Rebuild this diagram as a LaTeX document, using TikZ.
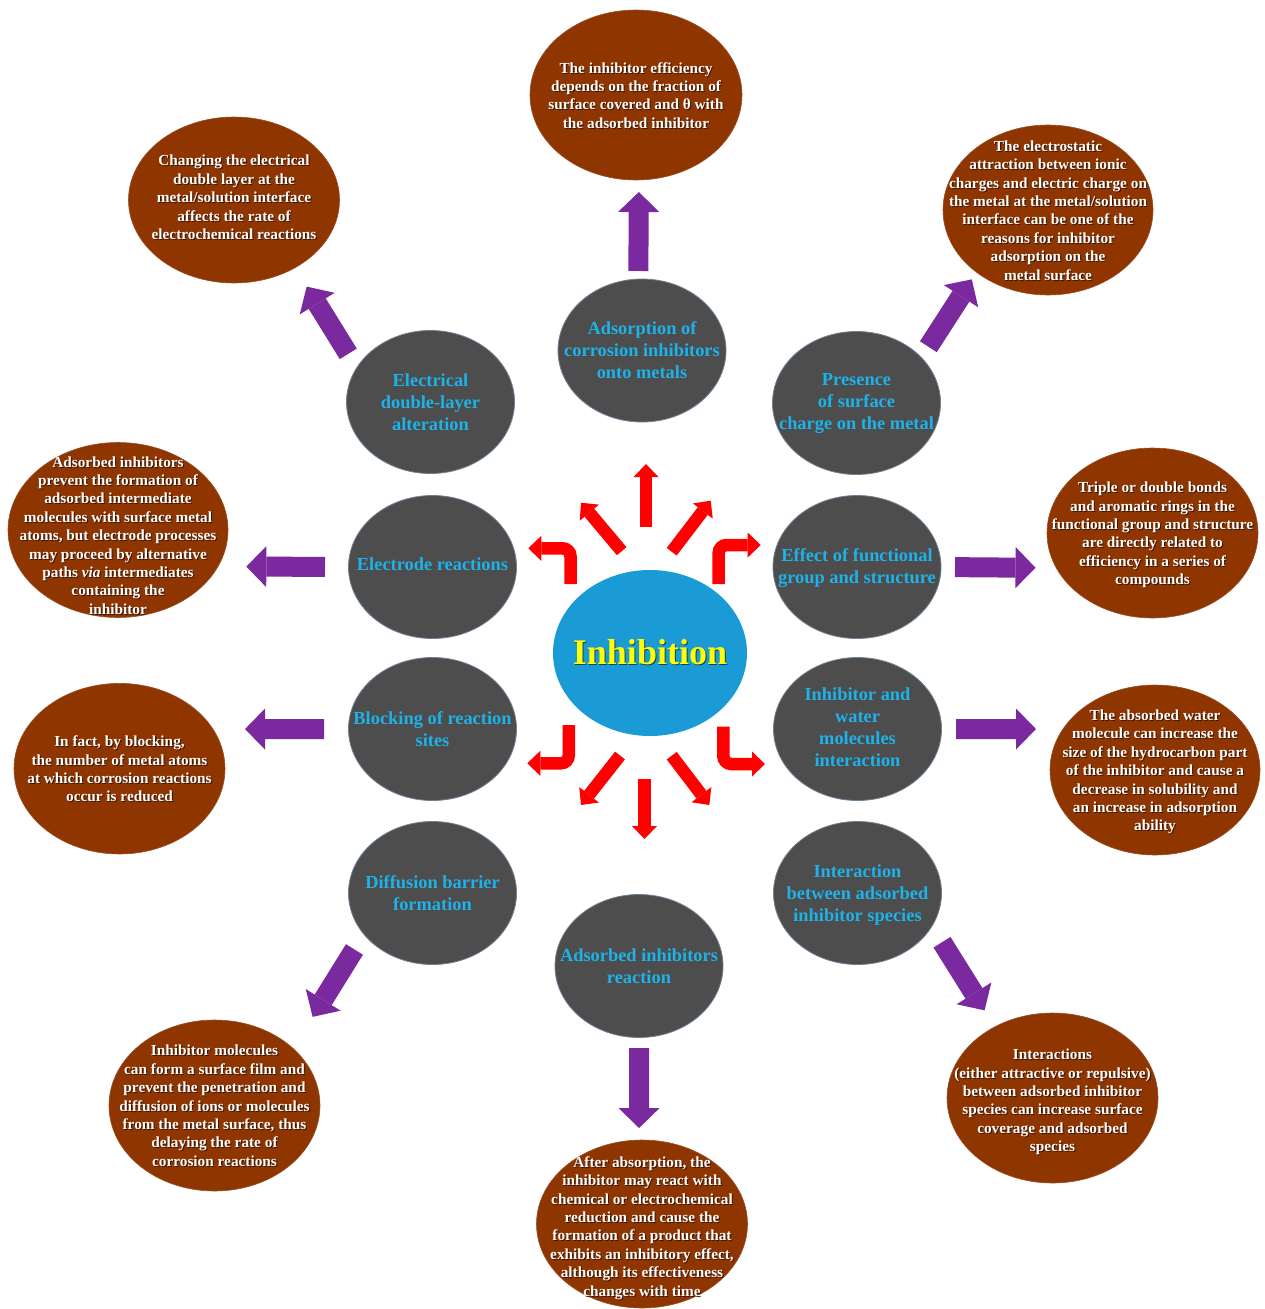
\documentclass[tikz,border=0pt]{standalone}
\usepackage{fontspec}
\setmainfont{Liberation Serif}
\usetikzlibrary{arrows.meta,shapes.geometric}
\definecolor{grayfill}{RGB}{77,77,77}
\definecolor{grayline}{RGB}{110,130,150}
\definecolor{cyantext}{RGB}{30,178,232}
\definecolor{brownfill}{RGB}{143,53,0}
\definecolor{brownline}{RGB}{150,80,40}
\definecolor{bluefill}{RGB}{26,155,214}
\definecolor{purp}{RGB}{122,42,158}
\definecolor{yel}{RGB}{255,255,0}
\definecolor{shc}{RGB}{40,40,40}
\newsavebox\zb
\newsavebox\zs
\newcommand\ztext[2][0pt]{%
  \sbox\zb{\begin{tabular}{@{}c@{}}#2\end{tabular}}%
  \sbox\zs{\color{shc}\begin{tabular}{@{}c@{}}#2\end{tabular}}%
  \makebox[0pt][c]{\raisebox{\dimexpr(\dp\zb-\ht\zb)/2+#1-3pt\relax}[0pt][0pt]{\hspace{2pt}\usebox\zs}}%
  \makebox[0pt][c]{\raisebox{\dimexpr(\dp\zb-\ht\zb)/2+#1-2pt\relax}[0pt][0pt]{\usebox\zb}}}
\tikzset{
  graynode/.style={ellipse, fill=grayfill, draw=grayline, line width=0.8pt,
    minimum width=168pt, minimum height=143pt, inner sep=0pt, outer sep=0pt,
    text=cyantext, font=\fontsize{18.4}{22}\selectfont\bfseries\colorlet{shc}{black!70}},
  brownnode/.style={ellipse, fill=brownfill, draw=brownline, line width=0.6pt,
    minimum width=211pt, minimum height=170pt, inner sep=0pt, outer sep=0pt,
    text=white, font=\fontsize{15.3}{18.4}\selectfont\bfseries\colorlet{shc}{brownfill!40!black}},
  bluenode/.style={ellipse, fill=bluefill, draw=none,
    minimum width=194pt, minimum height=166pt, inner sep=0pt, outer sep=0pt,
    text=yel, font=\fontsize{36}{40}\selectfont\bfseries\colorlet{shc}{bluefill!45!black}},
  parrow/.style={draw=purp, line width=20pt, -{Triangle[width=41pt,length=20pt,line width=0pt]}},
  rarrow/.style={draw=red, line width=12.5pt, -{Triangle[width=25pt,length=13pt,line width=0pt]}},
}
\begin{document}
\begin{tikzpicture}[x=1pt,y=-1pt]
\useasboundingbox (0,0) rectangle (1265,1309);
\fill[white] (0,0) rectangle (1265,1309);

% centre
\node[bluenode] (c) at (650,653) {\ztext[-1pt]{Inhibition}};

% grey nodes
\node[graynode] (g1) at (642,350.5) {\ztext{Adsorption of\\corrosion inhibitors\\onto metals}};
\node[graynode] (g2) at (430.5,402) {\ztext{Electrical\\double-layer\\alteration}};
\node[graynode] (g3) at (856.5,403) {\ztext[2pt]{Presence\\of surface\\charge on the metal}};
\node[graynode] (g4) at (432.5,567) {\ztext[3pt]{Electrode reactions}};
\node[graynode] (g5) at (857,567) {\ztext[1pt]{Effect of functional\\group and structure}};
\node[graynode] (g6) at (432.5,729) {\ztext{Blocking of reaction\\sites}};
\node[graynode] (g7) at (857.5,729) {\ztext[2pt]{Inhibitor and\\water\\molecules\\interaction}};
\node[graynode] (g8) at (432.5,893) {\ztext{Diffusion barrier\\formation}};
\node[graynode] (g9) at (857.5,893) {\ztext{Interaction\\between adsorbed\\inhibitor species}};
\node[graynode] (g10) at (639,966) {\ztext{Adsorbed inhibitors\\reaction}};

% brown nodes
\node[brownnode, minimum width=212pt] (b1) at (636,95) {\ztext{The inhibitor efficiency\\depends on the fraction of\\surface covered and θ with\\the adsorbed inhibitor}};
\node[brownnode, minimum height=166pt] (b2) at (234,200) {\ztext[3pt]{Changing the electrical\\double layer at the\\metal/solution interface\\affects the rate of\\electrochemical reactions}};
\node[brownnode, minimum width=210pt] (b3) at (1048,210) {\ztext{The electrostatic\\attraction between ionic\\charges and electric charge on\\the metal at the metal/solution\\interface can be one of the\\reasons for inhibitor\\adsorption on the\\metal surface}};
\node[brownnode, minimum width=220pt, minimum height=175pt] (bD) at (118,530) {\ztext[-5pt]{Adsorbed inhibitors\\prevent the formation of\\adsorbed intermediate\\molecules with surface metal\\atoms, but electrode processes\\may proceed by alternative\\paths \textit{via} intermediates\\containing the\\inhibitor}};
\node[brownnode] (bE) at (1152.5,533) {\ztext{Triple or double bonds\\and aromatic rings in the\\functional group and structure\\are directly related to\\efficiency in a series of\\compounds}};
\node[brownnode, minimum height=170.6pt] (bF) at (119.5,768.7) {\ztext{In fact, by blocking,\\the number of metal atoms\\at which corrosion reactions\\occur is reduced}};
\node[brownnode, minimum width=210pt] (bG) at (1155,770) {\ztext{The absorbed water\\molecule can increase the\\size of the hydrocarbon part\\of the inhibitor and cause a\\decrease in solubility and\\an increase in adsorption\\ability}};
\node[brownnode, minimum height=171pt] (bH) at (214.5,1105.5) {\ztext{Inhibitor molecules\\can form a surface film and\\prevent the penetration and\\diffusion of ions or molecules\\from the metal surface, thus\\delaying the rate of\\corrosion reactions}};
\node[brownnode] (bI) at (1052.5,1098) {\ztext[-2pt]{Interactions\\(either attractive or repulsive)\\between adsorbed inhibitor\\species can increase surface\\coverage and adsorbed\\species}};
\node[brownnode, minimum height=168pt] (bJ) at (642,1224) {\ztext[-2pt]{After absorption, the\\inhibitor may react with\\chemical or electrochemical\\reduction and cause the\\formation of a product that\\exhibits an inhibitory effect,\\although its effectiveness\\changes with time}};

% purple arrows
\draw[parrow, shorten <=8.1pt, shorten >=12pt] (g1.93.2) -- (b1.-88.7);
\draw[parrow, shorten <=16.25pt, shorten >=22.2pt] (g2.155.8) -- (b2.-48.5);
\draw[parrow, shorten <=12.93pt, shorten >=8.54pt] (g3.35.4) -- (b3.-139);
\draw[parrow, shorten <=23.5pt, shorten >=28.3pt] (g4.180) -- (bD.-20.4);
\draw[parrow, shorten <=14pt, shorten >=20.8pt] (g5.0) -- (bE.-160.6);
\draw[parrow, shorten <=24.5pt, shorten >=32.1pt] (g6.180) -- (bF.23);
\draw[parrow, shorten <=14.5pt, shorten >=27pt] (g7.0) -- (bG.156);
\draw[parrow, shorten <=17.9pt, shorten >=37.15pt] (g8.-149.7) -- (bH.36.8);
\draw[parrow, shorten <=18.98pt, shorten >=19.42pt] (g9.-24.9) -- (bI.129.9);
\draw[parrow, shorten <=10.5pt, shorten >=12pt] (g10.-90) -- (bJ.92);

% red arrows around the centre
\draw[rarrow] ([shift={(-4,-126)}]c.center) -- ++(0,-63);
\draw[rarrow] ([shift={(-28.3,-101.8)}]c.center) -- ++(-40.7,-48.5);
\draw[rarrow] ([shift={(21.7,-101.3)}]c.center) -- ++(39,-51);
\draw[rarrow] ([shift={(-30,102.5)}]c.center) -- ++(-39,49.5);
\draw[rarrow] ([shift={(-5.5,126)}]c.center) -- ++(0,60);
\draw[rarrow] ([shift={(21.7,102.7)}]c.center) -- ++(37.6,49.3);
\draw[rarrow, rounded corners=8pt] ([shift={(-79.5,-69)}]c.center) |- ++(-42.2,-35.7);
\draw[rarrow, rounded corners=8pt] ([shift={(68.7,-69)}]c.center) |- ++(42,-39);
\draw[rarrow, rounded corners=8pt] ([shift={(-81.2,72)}]c.center) |- ++(-41.5,38.3);
\draw[rarrow, rounded corners=8pt] ([shift={(73.3,73.7)}]c.center) |- ++(41.7,37.3);
\end{tikzpicture}
\end{document}
